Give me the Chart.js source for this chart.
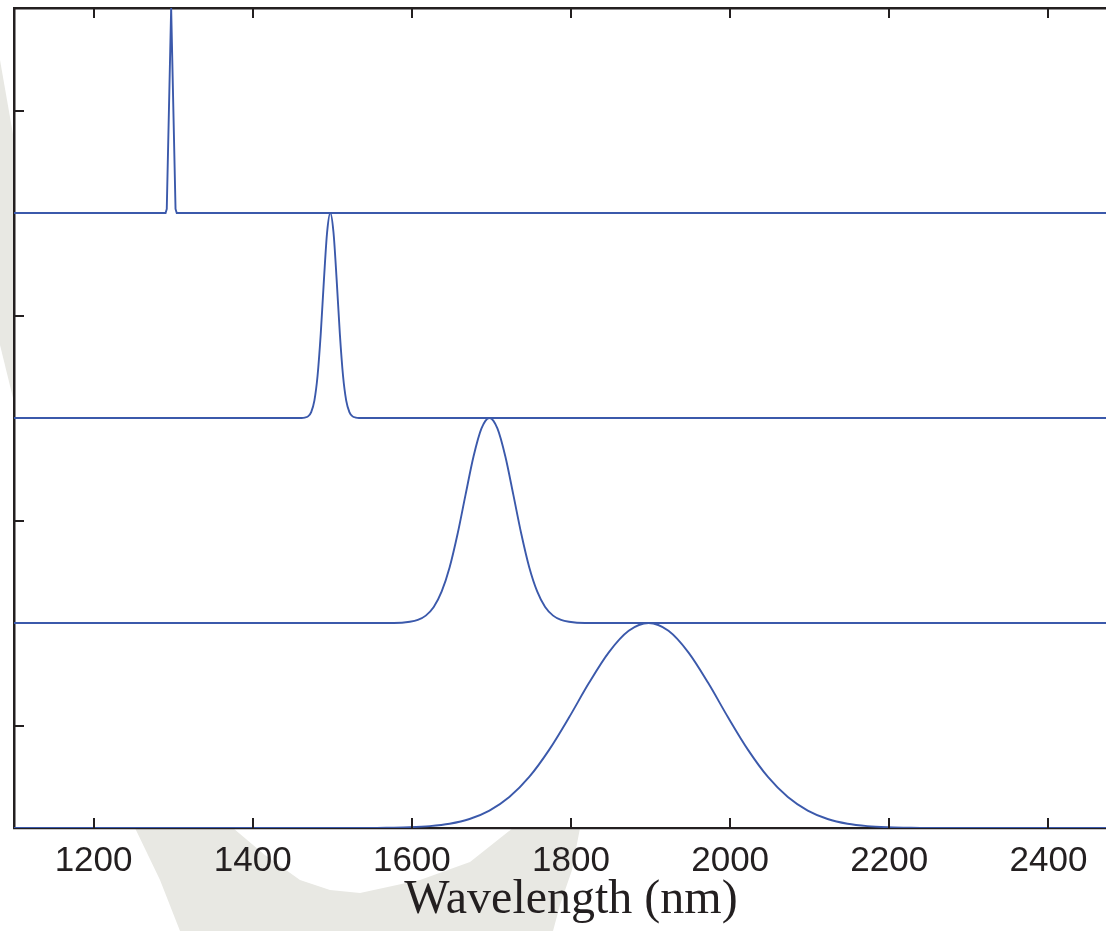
<!DOCTYPE html>
<html>
<head>
<meta charset="utf-8">
<script src="https://cdn.jsdelivr.net/npm/chart.js@4.4.0/dist/chart.umd.min.js"></script>
<style>
  html, body { margin: 0; padding: 0; background: #fff; overflow: hidden; }
  #wrap { position: relative; width: 1106px; height: 931px; overflow: hidden; }
  #mark, #c { position: absolute; left: 0; top: 0; }
</style>
</head>
<body>
<div id="wrap">
  <!-- faint watermark behind the figure -->
  <svg id="mark" width="1106" height="931">
    <polygon fill="#e8e8e3" points="0,60 14,140 14,402 0,345"/>
    <polygon fill="#e8e8e3" points="135,828 233,828 265,855 300,880 330,890 360,893 420,880 470,862 513,828 580,828 572,870 560,905 553,931 180,931 160,880"/>
  </svg>
  <canvas id="c" width="1135" height="931"></canvas>
</div>
<script>
// Axis setup
const xTicks = [1200, 1400, 1600, 1800, 2000, 2200, 2400];
const yTicks = [0.5, 1.5, 2.5, 3.5];
const xTitle = "Wavelength (nm)";

// Spectra, stacked with offsets 3, 2, 1, 0
const peak1X = [1100, 1290.5, 1292, 1297.5, 1303, 1304.5, 2500];
const peak1Y = [3, 3, 3.02, 4, 3.02, 3, 3];

const peak2X = [1100, 1461.5, 1465.5, 1469.5, 1473.5, 1477.5, 1481.5, 1485.5, 1489.5, 1493.5, 1497.5,
                1501.5, 1505.5, 1509.5, 1513.5, 1517.5, 1521.5, 1525.5, 1529.5, 1533.5, 2500];
const peak2Y = [2, 2, 2.002, 2.008, 2.029, 2.085, 2.206, 2.411, 2.674, 2.906, 3,
                2.906, 2.674, 2.411, 2.206, 2.085, 2.029, 2.008, 2.002, 2, 2];

const peak3X = [1100, 1577.5, 1597.5, 1607.5, 1617.5, 1627.5, 1637.5, 1647.5, 1657.5, 1667.5, 1677.5, 1687.5, 1697.5,
                1707.5, 1717.5, 1727.5, 1737.5, 1747.5, 1757.5, 1767.5, 1777.5, 1787.5, 1797.5, 1817.5, 2500];
const peak3Y = [1, 1, 1.006, 1.015, 1.036, 1.078, 1.154, 1.272, 1.435, 1.626, 1.812, 1.949, 2,
                1.949, 1.812, 1.626, 1.435, 1.272, 1.154, 1.078, 1.036, 1.015, 1.006, 1, 1];

const peak4X = [1100, 1547.5, 1572.5, 1597.5, 1622.5, 1647.5, 1672.5, 1697.5, 1722.5, 1747.5, 1772.5, 1797.5, 1822.5, 1847.5, 1872.5, 1897.5,
                1922.5, 1947.5, 1972.5, 1997.5, 2022.5, 2047.5, 2072.5, 2097.5, 2122.5, 2147.5, 2172.5, 2197.5, 2222.5, 2247.5, 2500];
const peak4Y = [0, 0, 0.0015, 0.0039, 0.0094, 0.021, 0.044, 0.085, 0.151, 0.249, 0.381, 0.539, 0.707, 0.857, 0.962, 1,
                0.962, 0.857, 0.707, 0.539, 0.381, 0.249, 0.151, 0.085, 0.044, 0.021, 0.0094, 0.0039, 0.0015, 0, 0];

const lineColor = "#3b59ab";
const inkColor = "#231f20";

function toPoints(xs, ys) {
  return xs.map((x, i) => ({x: x, y: ys[i]}));
}

function series(xs, ys, straight) {
  return {
    data: toPoints(xs, ys),
    borderColor: lineColor,
    borderWidth: 1.9,
    pointRadius: 0,
    fill: false,
    tension: 0,
    cubicInterpolationMode: straight ? "default" : "monotone"
  };
}

// white plot area so the watermark only shows in the margins
const plotBackground = {
  id: "plotBackground",
  beforeDraw(chart) {
    const a = chart.chartArea;
    chart.ctx.save();
    chart.ctx.fillStyle = "#ffffff";
    chart.ctx.fillRect(a.left, a.top, a.right - a.left, a.bottom - a.top);
    chart.ctx.restore();
  }
};

// matlab style ticks pointing into the plot
const innerTicks = {
  id: "innerTicks",
  afterDatasetsDraw(chart) {
    const ctx = chart.ctx;
    const a = chart.chartArea;
    ctx.save();
    ctx.strokeStyle = inkColor;
    ctx.lineWidth = 2;
    ctx.beginPath();
    xTicks.forEach(v => {
      const px = Math.round(chart.scales.x.getPixelForValue(v));
      ctx.moveTo(px, a.bottom);
      ctx.lineTo(px, a.bottom - 10);
      ctx.moveTo(px, a.top);
      ctx.lineTo(px, a.top + 10);
    });
    yTicks.forEach(v => {
      const py = Math.round(chart.scales.y.getPixelForValue(v));
      ctx.moveTo(a.left, py);
      ctx.lineTo(a.left + 10, py);
    });
    ctx.stroke();
    ctx.restore();
  }
};

new Chart(document.getElementById("c"), {
  type: "line",
  data: {
    datasets: [
      series(peak1X, peak1Y, true),
      series(peak2X, peak2Y, false),
      series(peak3X, peak3Y, false),
      series(peak4X, peak4Y, false)
    ]
  },
  options: {
    responsive: false,
    animation: false,
    layout: { padding: { left: 0, right: 7, top: 0, bottom: 0 } },
    plugins: {
      legend: { display: false },
      tooltip: { enabled: false }
    },
    scales: {
      x: {
        type: "linear",
        position: "bottom",
        min: 1100,
        max: 2500,
        afterBuildTicks: s => { s.ticks = xTicks.map(v => ({value: v})); },
        afterFit: s => { s.height = 103; },
        grid: { display: false, drawTicks: false },
        border: { display: true, color: inkColor, width: 2.2 },
        ticks: {
          color: inkColor,
          padding: 12,
          maxRotation: 0,
          autoSkip: false,
          font: { family: "'Liberation Sans', Arial, sans-serif", size: 35 },
          callback: v => String(v)
        },
        title: {
          display: true,
          text: xTitle,
          color: inkColor,
          padding: { top: 0, bottom: 2 },
          font: { family: "'Liberation Serif', 'Times New Roman', serif", size: 48 }
        }
      },
      x2: {
        type: "linear",
        position: "top",
        min: 1100,
        max: 2500,
        afterFit: s => { s.height = 8; },
        grid: { display: false, drawTicks: false },
        border: { display: true, color: inkColor, width: 2.5 },
        ticks: { display: false }
      },
      y: {
        type: "linear",
        min: 0,
        max: 4,
        afterBuildTicks: s => { s.ticks = yTicks.map(v => ({value: v})); },
        afterFit: s => { s.width = 14; },
        grid: { display: false, drawTicks: false },
        border: { display: true, color: inkColor, width: 2.5 },
        ticks: { display: false }
      }
    }
  },
  plugins: [plotBackground, innerTicks]
});
</script>
</body>
</html>
